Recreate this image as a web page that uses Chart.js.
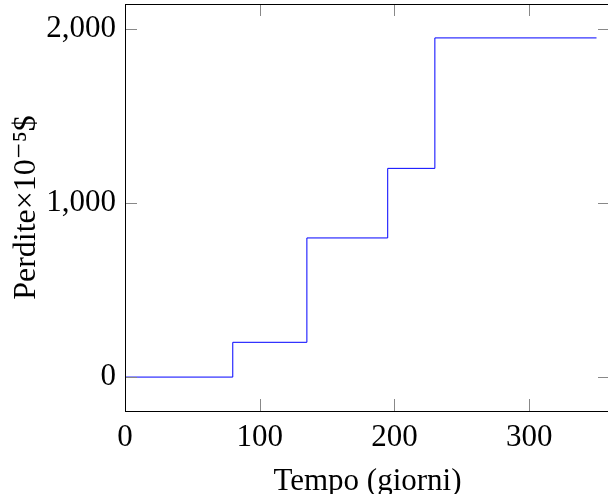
<!DOCTYPE html>
<html>
<head>
<meta charset="utf-8">
<script src="https://cdn.jsdelivr.net/npm/chart.js@4"></script>
<style>
  html, body { margin: 0; padding: 0; background: #fff; overflow: hidden; }
  #wrap { width: 610px; height: 494px; }
</style>
</head>
<body>
<div id="wrap"><canvas id="chart"></canvas></div>
<script>
const days = [0, 80, 135, 195, 230, 350];
const losses = [0, 200, 800, 1200, 1950, 1950];
const xTicks = [0, 100, 200, 300];
const yTicks = [0, 1000, 2000];

const serif = "'Liberation Serif', 'DejaVu Serif', serif";

// pgfplots-like frame with inward ticks on all four sides
const frame = {
  id: "frame",
  afterDraw(chart) {
    const { ctx, chartArea: a, scales } = chart;
    ctx.save();
    ctx.strokeStyle = "#888";
    ctx.lineWidth = 1;
    const len = 12;
    ctx.beginPath();
    xTicks.forEach((v) => {
      const px = Math.round(scales.x.getPixelForValue(v)) + 0.5;
      ctx.moveTo(px, a.bottom);
      ctx.lineTo(px, a.bottom - len);
      ctx.moveTo(px, a.top);
      ctx.lineTo(px, a.top + len);
    });
    yTicks.forEach((v) => {
      const py = Math.round(scales.y.getPixelForValue(v)) + 0.5;
      ctx.moveTo(a.left, py);
      ctx.lineTo(a.left + len, py);
      ctx.moveTo(a.right, py);
      ctx.lineTo(a.right - len, py);
    });
    ctx.stroke();
    ctx.strokeStyle = "#000";
    ctx.strokeRect(a.left + 0.5, a.top + 0.5, a.right - a.left, a.bottom - a.top);
    ctx.restore();
  },
};

new Chart(document.getElementById("chart"), {
  type: "line",
  data: {
    datasets: [
      {
        data: days.map((d, i) => ({ x: d, y: losses[i] })),
        borderColor: "#0000ff",
        borderWidth: 1,
        stepped: "before",
        pointRadius: 0,
        fill: false,
      },
    ],
  },
  options: {
    responsive: true,
    maintainAspectRatio: false,
    animation: false,
    layout: { padding: { top: 4, right: 0, left: 0, bottom: 0 } },
    plugins: { legend: { display: false }, tooltip: { enabled: false } },
    scales: {
      x: {
        type: "linear",
        min: 0,
        max: 360,
        afterBuildTicks: (s) => { s.ticks = xTicks.map((v) => ({ value: v })); },
        afterFit: (s) => { s.height = 83; s.paddingLeft = 0; s.paddingRight = 0; },
        grid: { display: false, drawTicks: false },
        border: { display: false },
        ticks: {
          color: "#000",
          padding: 8,
          font: { family: serif, size: 31 },
          callback: (v) => v.toLocaleString("en-US"),
        },
        title: {
          display: true,
          text: "Tempo (giorni)",
          color: "#000",
          font: { family: serif, size: 31 },
          padding: { top: 0, bottom: -6 },
        },
      },
      y: {
        min: -195,
        max: 2145,
        afterBuildTicks: (s) => { s.ticks = yTicks.map((v) => ({ value: v })); },
        afterFit: (s) => { s.width = 125; s.paddingTop = 0; s.paddingBottom = 0; },
        grid: { display: false, drawTicks: false },
        border: { display: false },
        ticks: {
          color: "#000",
          padding: 9,
          font: { family: serif, size: 31 },
          callback: (v) => v.toLocaleString("en-US"),
        },
        title: {
          display: true,
          text: "Perdite×10⁻⁵$",
          color: "#000",
          font: { family: serif, size: 32 },
          padding: { top: 7, bottom: 0 },
        },
      },
    },
  },
  plugins: [frame],
});
</script>
</body>
</html>
